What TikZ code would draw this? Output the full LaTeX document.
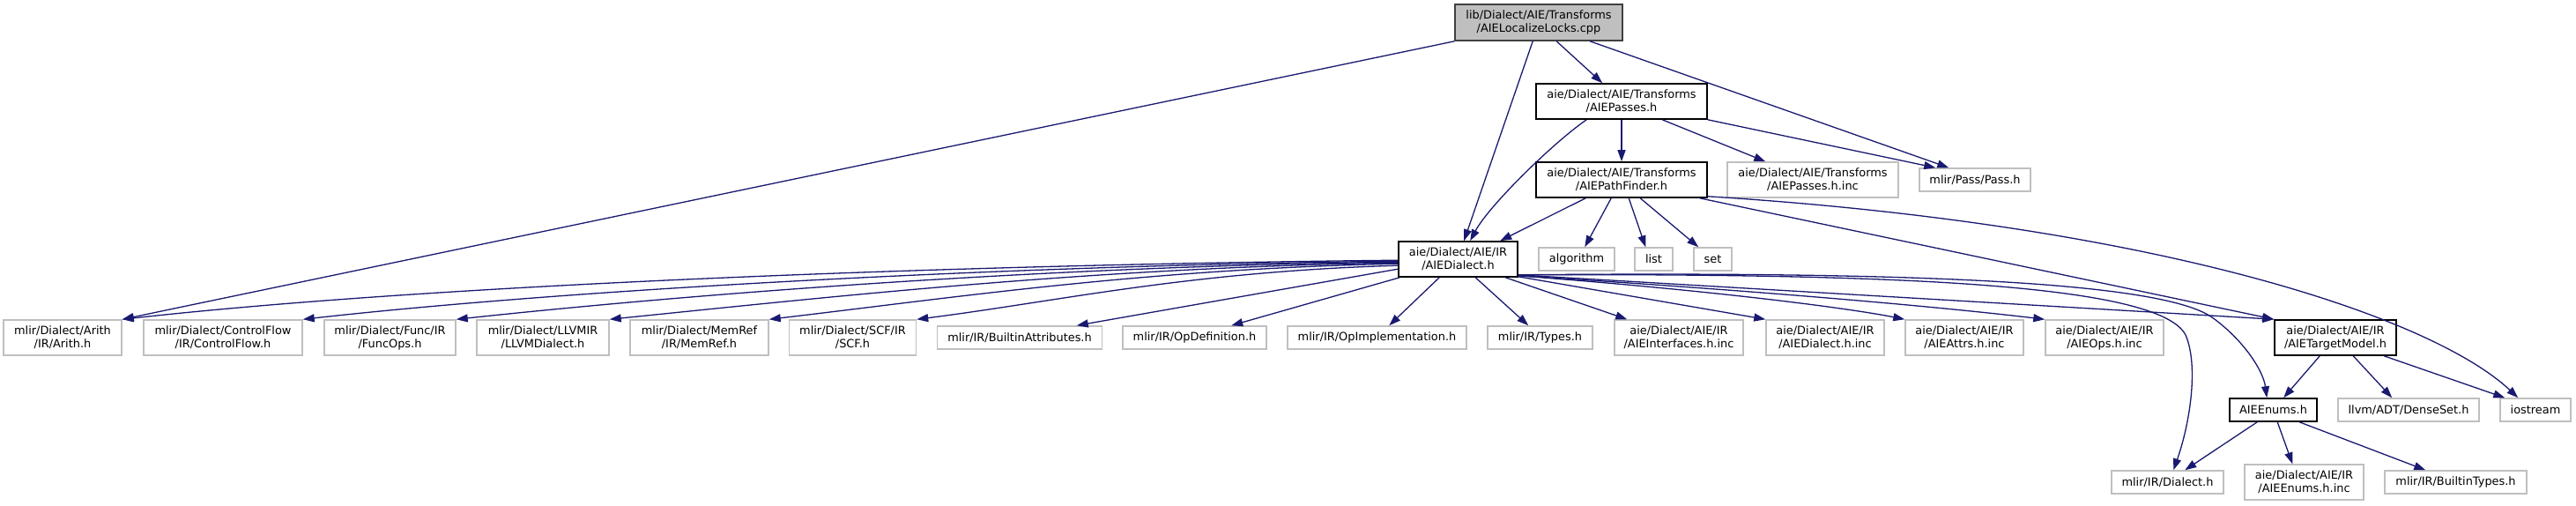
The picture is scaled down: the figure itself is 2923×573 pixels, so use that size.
\documentclass[tikz,border=0pt]{standalone}
\usepackage{fontspec}
\setmainfont{DejaVu Sans}
\usetikzlibrary{arrows.meta,calc}
\definecolor{edgeblue}{HTML}{191970}
\definecolor{boxgrey}{HTML}{BFBFBF}
\definecolor{rootborder}{HTML}{404040}
\tikzset{
  base/.style={rectangle, inner sep=0pt, align=center, font=\fontsize{12.9}{15}\selectfont, text=black},
  ext/.style={base, draw=boxgrey, line width=1.5pt},
  int/.style={base, draw=black, line width=1.6pt},
  rootbox/.style={base, draw=rootborder, fill=boxgrey, line width=1.6pt},
  dep/.style={draw=edgeblue, line width=1.3pt, -{Triangle[length=13pt,width=9pt]}},
}
\begin{document}
\begin{tikzpicture}[x=1pt,y=-1pt]
\useasboundingbox (0,0) rectangle (2923,573);
% nodes
\node[rootbox, minimum width=190pt, minimum height=41pt] (root) at (1746,25.5) {lib/Dialect/AIE/Transforms\\/AIELocalizeLocks.cpp};
\node[int, minimum width=194pt, minimum height=40pt] (passes) at (1840,115) {aie/Dialect/AIE/Transforms\\/AIEPasses.h};
\node[int, minimum width=194pt, minimum height=40pt] (pathfinder) at (1840,204) {aie/Dialect/AIE/Transforms\\/AIEPathFinder.h};
\node[ext, minimum width=194pt, minimum height=40pt] (passesinc) at (2057,204) {aie/Dialect/AIE/Transforms\\/AIEPasses.h.inc};
\node[ext, minimum width=126pt, minimum height=26pt] (passh) at (2241,204) {mlir/Pass/Pass.h};
\node[int, minimum width=135pt, minimum height=40pt] (aiedialect) at (1654.5,294) {aie/Dialect/AIE/IR\\/AIEDialect.h};
\node[ext, minimum width=86pt, minimum height=26pt] (algorithm) at (1789,294) {algorithm};
\node[ext, minimum width=43pt, minimum height=26pt] (list) at (1876.5,294) {list};
\node[ext, minimum width=43pt, minimum height=26pt] (set) at (1943.5,294) {set};
% row 2
\node[ext, minimum width=134pt, minimum height=40pt] (arith) at (71,383) {mlir/Dialect/Arith\\/IR/Arith.h};
\node[ext, minimum width=180pt, minimum height=40pt] (controlflow) at (253,383) {mlir/Dialect/ControlFlow\\/IR/ControlFlow.h};
\node[ext, minimum width=149pt, minimum height=40pt] (func) at (442.5,383) {mlir/Dialect/Func/IR\\/FuncOps.h};
\node[ext, minimum width=150pt, minimum height=40pt] (llvm) at (616,383) {mlir/Dialect/LLVMIR\\/LLVMDialect.h};
\node[ext, minimum width=157pt, minimum height=40pt] (memref) at (793.5,383) {mlir/Dialect/MemRef\\/IR/MemRef.h};
\node[ext, minimum width=144pt, minimum height=40pt] (scf) at (967.5,383) {mlir/Dialect/SCF/IR\\/SCF.h};
\node[ext, minimum width=187pt, minimum height=26pt] (builtinattr) at (1157,383) {mlir/IR/BuiltinAttributes.h};
\node[ext, minimum width=163pt, minimum height=26pt] (opdef) at (1355.5,383) {mlir/IR/OpDefinition.h};
\node[ext, minimum width=203pt, minimum height=26pt] (opimpl) at (1562.5,383) {mlir/IR/OpImplementation.h};
\node[ext, minimum width=119pt, minimum height=26pt] (types) at (1747.5,383) {mlir/IR/Types.h};
\node[ext, minimum width=146pt, minimum height=40pt] (interfaces) at (1905,383) {aie/Dialect/AIE/IR\\/AIEInterfaces.h.inc};
\node[ext, minimum width=134pt, minimum height=40pt] (dialectinc) at (2071,383) {aie/Dialect/AIE/IR\\/AIEDialect.h.inc};
\node[ext, minimum width=134pt, minimum height=40pt] (attrs) at (2229,383) {aie/Dialect/AIE/IR\\/AIEAttrs.h.inc};
\node[ext, minimum width=134pt, minimum height=40pt] (ops) at (2388,383) {aie/Dialect/AIE/IR\\/AIEOps.h.inc};
\node[int, minimum width=138pt, minimum height=40pt] (targetmodel) at (2650,383) {aie/Dialect/AIE/IR\\/AIETargetModel.h};
% row 3
\node[int, minimum width=99pt, minimum height=26pt] (enums) at (2579.5,465) {AIEEnums.h};
\node[ext, minimum width=160pt, minimum height=26pt] (denseset) at (2733,465) {llvm/ADT/DenseSet.h};
\node[ext, minimum width=80pt, minimum height=26pt] (iostream) at (2877,465) {iostream};
% row 4
\node[ext, minimum width=127pt, minimum height=26pt] (mlirdialect) at (2459.5,547) {mlir/IR/Dialect.h};
\node[ext, minimum width=135pt, minimum height=40pt] (enumsinc) at (2614.5,547) {aie/Dialect/AIE/IR\\/AIEEnums.h.inc};
\node[ext, minimum width=161pt, minimum height=26pt] (builtintypes) at (2786.5,547) {mlir/IR/BuiltinTypes.h};

% root edges
\draw[dep] (root.south west) -- (arith.north east);
\draw[dep] ($(root.south west)+(89,0)$) -- ($(aiedialect.north west)+(75,0)$);
\draw[dep] ($(root.south west)+(116,0)$) -- ($(passes.north west)+(76,0)$);
\draw[dep] ($(root.south west)+(154,0)$) -- ($(passh.north west)+(34,0)$);
% passes edges
\draw[dep] ($(passes.south west)+(58,0)$) .. controls (1761,163) and (1689,234) .. ($(aiedialect.north west)+(82,0)$);
\draw[dep] (passes.south) -- (pathfinder.north);
\draw[dep] ($(passes.south west)+(144,0)$) -- ($(passesinc.north west)+(44,0)$);
\draw[dep] (passes.south east) -- ($(passh.north west)+(19,0)$);
% pathfinder edges
\draw[dep] ($(pathfinder.south west)+(57,0)$) -- ($(aiedialect.north west)+(116,0)$);
\draw[dep] ($(pathfinder.south west)+(86,0)$) -- ($(algorithm.north west)+(53,0)$);
\draw[dep] ($(pathfinder.south west)+(106,0)$) -- ($(list.north west)+(13,0)$);
\draw[dep] ($(pathfinder.south west)+(119,0)$) -- ($(set.north west)+(6,0)$);
\draw[dep] ($(pathfinder.south east)+(-9,0)$) -- (targetmodel.north west);
\draw[dep] ($(pathfinder.south east)+(0,-2)$) .. controls (2450,255) and (2760,360) .. ($(iostream.north west)+(21,0)$);
% targetmodel edges
\draw[dep] ($(targetmodel.south west)+(52,0)$) -- ($(enums.north west)+(62,0)$);
\draw[dep] ($(targetmodel.south west)+(90,0)$) -- ($(denseset.north west)+(62,0)$);
\draw[dep] ($(targetmodel.south west)+(125,0)$) -- ($(iostream.north west)+(6,0)$);
% enums edges
\draw[dep] ($(enums.south west)+(32,0)$) -- ($(mlirdialect.north west)+(84,0)$);
\draw[dep] ($(enums.south west)+(55,0)$) -- ($(enumsinc.north west)+(55,0)$);
\draw[dep] ($(enums.south west)+(80,0)$) -- ($(builtintypes.north west)+(47,0)$);
% aiedialect edges, left
\draw[dep] ($(aiedialect.north west)+(0,22)$) .. controls (1100,300) and (500,322) .. (arith.north east);
\draw[dep] ($(aiedialect.north west)+(0,23)$) .. controls (1150,301) and (650,328) .. (controlflow.north east);
\draw[dep] ($(aiedialect.north west)+(0,24)$) .. controls (1200,302) and (800,332) .. (func.north east);
\draw[dep] ($(aiedialect.north west)+(0,25)$) .. controls (1250,303) and (950,336) .. (llvm.north east);
\draw[dep] ($(aiedialect.north west)+(0,26)$) .. controls (1300,305) and (1080,338) .. (memref.north east);
\draw[dep] ($(aiedialect.north west)+(0,28)$) .. controls (1350,308) and (1200,342) .. (scf.north east);
\draw[dep] ($(aiedialect.north west)+(0,32)$) -- ($(builtinattr.north west)+(159,0)$);
\draw[dep] ($(aiedialect.south west)+(2,0)$) -- ($(opdef.north west)+(124,0)$);
\draw[dep] ($(aiedialect.south west)+(47,0)$) -- ($(opimpl.north west)+(116,0)$);
\draw[dep] ($(aiedialect.south west)+(88,0)$) -- ($(types.north west)+(47,0)$);
\draw[dep] ($(aiedialect.south west)+(122,0)$) -- ($(interfaces.north west)+(15,0)$);
% aiedialect edges, right
\draw[dep] ($(aiedialect.south east)+(0,-1)$) -- (dialectinc.north west);
\draw[dep] ($(aiedialect.south east)+(0,-2)$) .. controls (1950,330) and (2100,350) .. (attrs.north west);
\draw[dep] ($(aiedialect.south east)+(0,-2)$) .. controls (2000,330) and (2200,348) .. (ops.north west);
\draw[dep] ($(aiedialect.south east)+(0,-3)$) -- (targetmodel.north west);
\draw[dep] ($(aiedialect.south east)+(0,-3)$) .. controls (2150,308) and (2450,318) .. (2510,360) .. controls (2545,385) and (2568,420) .. ($(enums.north west)+(43,0)$);
\draw[dep] ($(aiedialect.south east)+(0,-3)$) .. controls (2150,310) and (2450,322) .. (2480,380) .. controls (2495,415) and (2485,480) .. ($(mlirdialect.north west)+(71,0)$);
\end{tikzpicture}
\end{document}
